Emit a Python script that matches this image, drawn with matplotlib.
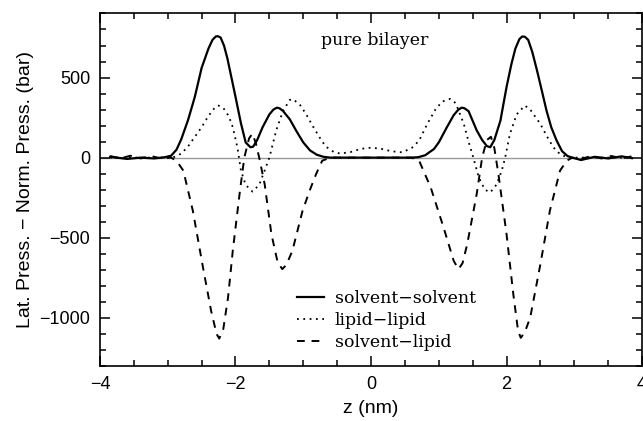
import matplotlib
matplotlib.use("Agg")
import matplotlib.pyplot as plt
from matplotlib.ticker import MultipleLocator

# solvent-solvent (solid)
z_ss = [-3.85, -3.6, -3.4, -3.2, -3.05, -2.95, -2.87, -2.8, -2.7, -2.6, -2.5, -2.4, -2.34,
        -2.29, -2.26, -2.22, -2.17, -2.12, -2.06, -2.0, -1.92, -1.85, -1.78, -1.74, -1.68,
        -1.6, -1.5, -1.44, -1.39, -1.35, -1.3, -1.2, -1.1, -1.0, -0.9, -0.8, -0.7, -0.6,
        0.6, 0.7, 0.8, 0.93, 1.0, 1.12, 1.22, 1.29, 1.34, 1.38, 1.44, 1.5, 1.56, 1.64,
        1.71, 1.76, 1.82, 1.91, 2.0, 2.07, 2.13, 2.19, 2.23, 2.27, 2.32, 2.38, 2.45, 2.52,
        2.59, 2.66, 2.74, 2.82, 2.9, 2.97, 3.1, 3.3, 3.5, 3.7, 3.85]
p_ss = [5, -8, 0, -5, 2, 12, 50, 115, 235, 380, 560, 680, 735,
        757, 758, 750, 700, 620, 500, 380, 215, 95, 65, 68, 110,
        190, 270, 300, 312, 308, 292, 240, 165, 95, 45, 18, 5, 0,
        0, 3, 15, 54, 95, 190, 265, 300, 312, 308, 290, 230, 170, 110,
        72, 65, 110, 231, 440, 580, 680, 740, 756, 755, 735, 660, 544, 420,
        294, 190, 106, 40, 10, 0, -15, 5, -5, 8, -3]

# lipid-lipid (dotted)
z_ll = [-3.85, -3.0, -2.9, -2.8, -2.7, -2.6, -2.5, -2.4, -2.3, -2.25, -2.18, -2.1, -2.04,
        -1.97, -1.92, -1.85, -1.75, -1.65, -1.57, -1.5, -1.4, -1.3, -1.2, -1.15, -1.05,
        -0.96, -0.85, -0.76, -0.67, -0.55, -0.45, -0.3, -0.15, 0.0, 0.15, 0.3, 0.46, 0.6,
        0.71, 0.83, 0.95, 1.05, 1.17, 1.25, 1.37, 1.44, 1.51, 1.59, 1.68, 1.76, 1.85, 1.93,
        1.98, 2.05, 2.15, 2.27, 2.35, 2.5, 2.6, 2.69, 2.77, 2.84, 2.95, 3.85]
p_ll = [0, 0, 5, 25, 70, 130, 190, 260, 315, 325, 310, 260, 190,
        60, -81, -170, -212, -170, -81, 0, 169, 290, 360, 365, 330,
        273, 190, 127, 70, 35, 25, 35, 55, 62, 55, 40, 33, 60,
        106, 210, 300, 350, 367, 340, 210, 100, 0, -123, -200, -217, -170, -81,
        0, 148, 270, 325, 300, 210, 130, 65, 30, 12, 0, 0]

# solvent-lipid (dashed)
z_sl = [-3.85, -3.7, -3.55, -3.4, -3.25, -3.1, -2.95, -2.87, -2.77, -2.63, -2.48, -2.36,
        -2.28, -2.24, -2.18, -2.11, -2.04, -1.94, -1.87, -1.8, -1.75, -1.7, -1.65, -1.57,
        -1.47, -1.38, -1.31, -1.25, -1.16, -1.01, -0.9, -0.81, -0.72, -0.6, 0.6, 0.71,
        0.88, 1.07, 1.22, 1.29, 1.35, 1.42, 1.56, 1.64, 1.71, 1.77, 1.82, 1.88, 2.0, 2.1,
        2.17, 2.21, 2.27, 2.35, 2.5, 2.64, 2.79, 2.89, 2.97, 3.1, 3.25, 3.4, 3.55, 3.7, 3.85]
p_sl = [10, -5, 12, -5, 10, -5, 0, -20, -81, -331, -685, -956,
        -1100, -1130, -1070, -873, -581, -227, 0, 120, 150, 90, 0, -165,
        -477, -650, -696, -670, -581, -331, -200, -102, -19, 0, 0, -19,
        -185, -435, -644, -696, -660, -540, -227, 0, 110, 130, 60, -102, -477, -852,
        -1080, -1125, -1090, -998, -665, -331, -81, -19, 0, -8, 10, -5, 10, -5, 8]

labels = ["solvent\u2212solvent", "lipid\u2212lipid", "solvent\u2212lipid"]

plt.rcParams["font.family"] = ["Liberation Sans", "DejaVu Sans"]

fig = plt.figure(figsize=(6.43, 4.21), dpi=100)
ax = fig.add_axes([0.1555, 0.131, 0.843, 0.837])

ax.axhline(0, xmin=0, xmax=(3.85 + 4) / 8, color="#999999", lw=1.0, zorder=1)
ax.plot(z_ss, p_ss, color="black", lw=1.6, label=labels[0], zorder=3)
ax.plot(z_ll, p_ll, color="black", lw=1.3, linestyle=(0, (1, 2.5)), label=labels[1], zorder=3)
ax.plot(z_sl, p_sl, color="black", lw=1.4, linestyle=(0, (4, 3.5)), label=labels[2], zorder=3)

ax.set_xlim(-4, 4)
ax.set_ylim(-1300, 900)
ax.xaxis.set_major_locator(MultipleLocator(2))
ax.xaxis.set_minor_locator(MultipleLocator(0.5))
ax.yaxis.set_major_locator(MultipleLocator(500))
ax.yaxis.set_minor_locator(MultipleLocator(100))
ax.tick_params(which="both", direction="in", top=True, right=True, width=1.1, labelsize=13)
ax.tick_params(which="major", length=7, pad=7)
ax.tick_params(which="minor", length=4)
for s in ax.spines.values():
    s.set_linewidth(1.2)

ax.set_xlabel("z (nm)", fontsize=14, labelpad=5)
ax.set_ylabel("Lat. Press. \u2212 Norm. Press. (bar)", fontsize=14, labelpad=4)

ax.text(0.506, 0.924, "pure bilayer", transform=ax.transAxes, ha="center", va="center",
        fontsize=12.5, family="DejaVu Serif")

ax.legend(loc="upper left", bbox_to_anchor=(0.363, 0.216), frameon=False, borderpad=0,
          borderaxespad=0, handlelength=1.55, handletextpad=0.65, labelspacing=0.3,
          prop={"family": "DejaVu Serif", "size": 12.5})

fig.savefig("out.png", dpi=100)
